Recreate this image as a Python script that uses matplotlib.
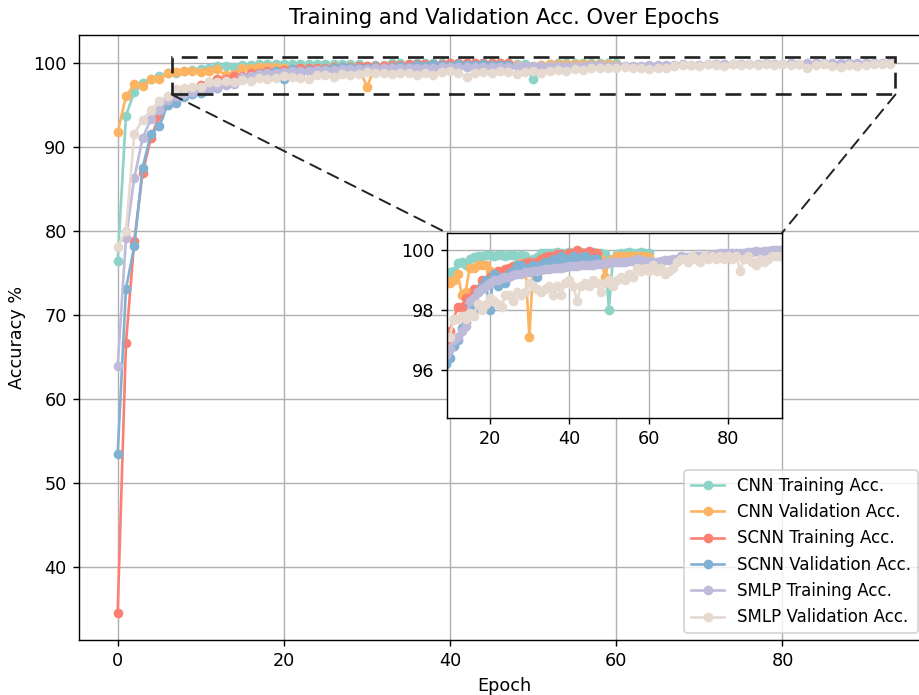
import matplotlib.pyplot as plt
from matplotlib.patches import Rectangle, ConnectionPatch

cnn_train = [76.4, 93.7, 96.5, 97.6, 98.1, 98.4, 98.7, 98.8, 99.0, 99.1,
             99.25, 99.3, 99.55, 99.6, 99.5, 99.7, 99.75, 99.8, 99.8, 99.82,
             99.82, 99.8, 99.82, 99.83, 99.8, 99.82, 99.83, 99.8, 99.82, 99.8,
             99.6, 99.7, 99.75, 99.9, 99.9, 99.88, 99.9, 99.92, 99.9, 99.9,
             99.92, 99.9, 99.9, 99.92, 99.9, 99.9, 99.92, 99.9, 99.88, 99.85,
             98.0, 99.7, 99.85, 99.9, 99.9, 99.92, 99.9, 99.9, 99.92, 99.9, 99.9]
cnn_val = [91.7, 96.0, 97.4, 97.2, 98.0, 98.0, 98.7, 98.9, 99.0, 99.0,
           98.9, 99.0, 99.2, 98.5, 98.6, 99.4, 99.4, 99.5, 99.5, 99.5,
           99.3, 99.2, 99.25, 99.2, 99.2, 99.3, 99.45, 99.5, 99.55, 99.5,
           97.1, 99.5, 99.6, 99.6, 99.65, 99.6, 99.7, 99.65, 99.7, 99.7,
           99.65, 99.7, 99.7, 99.75, 99.7, 99.7, 99.72, 99.7, 99.7, 99.1,
           99.6, 99.7, 99.78, 99.8, 99.78, 99.8, 99.8, 99.78, 99.8, 99.8, 99.75]
scnn_train = [34.6, 66.7, 78.8, 86.9, 91.0, 93.7, 95.2, 96.0, 96.8, 97.0,
              97.3, 97.7, 98.1, 98.1, 98.4, 98.4, 98.7, 98.7, 99.0, 99.0,
              99.1, 99.2, 99.3, 99.3, 99.35, 99.4, 99.45, 99.5, 99.5, 99.55,
              99.6, 99.55, 99.6, 99.7, 99.75, 99.8, 99.8, 99.85, 99.85, 99.8,
              99.9, 99.9, 100.0, 99.9, 99.9, 99.95, 99.9, 99.9]
scnn_val = [53.5, 73.1, 78.2, 87.5, 91.5, 92.4, 95.0, 95.2, 95.9, 96.2,
            96.4, 96.8, 97.0, 97.4, 97.6, 98.2, 98.0, 98.6, 98.8, 99.0,
            98.0, 99.2, 98.8, 99.1, 98.9, 99.2, 99.3, 99.5, 99.5, 99.3,
            99.4, 99.5, 99.1, 99.5, 99.6, 99.5, 99.7, 99.6, 99.8, 99.7,
            99.6, 99.8, 99.7, 99.75, 99.8, 99.7, 99.7, 99.7]
smlp_train = [63.9, 79.1, 86.3, 91.0, 93.3, 94.3, 95.5, 96.0, 96.3, 96.5,
              96.7, 97.0, 97.1, 97.3, 97.45, 98.3, 98.4, 98.6, 98.7, 98.8,
              98.9, 99.0, 99.0, 99.05, 99.1, 99.1, 99.15, 99.2, 99.2, 99.25,
              99.25, 99.3, 99.3, 99.33, 99.35, 99.35, 99.38, 99.4, 99.4, 99.42,
              99.44, 99.44, 99.45, 99.47, 99.48, 99.5, 99.5, 99.52, 99.53, 99.55,
              99.55, 99.57, 99.58, 99.6, 99.6, 99.62, 99.63, 99.67, 99.65, 99.6,
              99.62, 99.6, 99.6, 99.62, 99.65, 99.66, 99.67, 99.7, 99.78, 99.76,
              99.75, 99.78, 99.77, 99.78, 99.78, 99.8, 99.82, 99.85, 99.89, 99.87,
              99.88, 99.89, 99.88, 99.89, 99.9, 99.92, 99.93, 99.94, 99.93, 99.95,
              99.96, 99.97, 100.0, 99.98]
smlp_val = [78.1, 80.0, 91.5, 93.2, 94.3, 95.4, 96.0, 96.8, 97.0, 97.1,
            97.1, 97.7, 97.7, 97.8, 97.7, 97.9, 97.8, 98.2, 98.0, 98.2,
            98.4, 98.3, 98.2, 98.1, 98.5, 98.5, 98.3, 98.6, 98.5, 98.6,
            98.9, 98.8, 98.7, 98.6, 98.7, 98.8, 98.5, 98.8, 98.5, 98.9,
            99.0, 98.8, 98.3, 98.8, 98.9, 98.8, 99.0, 98.9, 98.6, 98.9,
            99.0, 98.8, 99.0, 99.1, 99.0, 99.2, 99.1, 99.4, 99.3, 99.4,
            99.3, 99.5, 99.3, 99.4, 99.2, 99.3, 99.4, 99.6, 99.7, 99.7,
            99.6, 99.8, 99.7, 99.6, 99.8, 99.7, 99.8, 99.7, 99.8, 99.7,
            99.8, 99.7, 99.8, 99.3, 99.7, 99.8, 99.6, 99.5, 99.7, 99.6,
            99.7, 99.8, 99.8, 99.8]

series = [
    ("CNN Training Acc.", cnn_train, "#8dd3c7"),
    ("CNN Validation Acc.", cnn_val, "#fdb462"),
    ("SCNN Training Acc.", scnn_train, "#fb8072"),
    ("SCNN Validation Acc.", scnn_val, "#80b1d3"),
    ("SMLP Training Acc.", smlp_train, "#bebada"),
    ("SMLP Validation Acc.", smlp_val, "#e6d9d0"),
]

DPI = 127
fig = plt.figure(figsize=(919 / DPI, 695 / DPI), dpi=DPI)
ax = fig.add_axes([0.086, 0.0791, 0.925, 0.8705])
axins = fig.add_axes([0.4864, 0.3986, 0.3645, 0.2662])

for label, vals, color in series:
    epochs = list(range(len(vals)))
    ax.plot(epochs, vals, marker="o", ms=4.5, color=color, label=label)
    axins.plot(epochs, vals, marker="o", ms=4.5, color=color)

ax.set_title("Training and Validation Acc. Over Epochs")
ax.set_xlabel("Epoch")
ax.set_ylabel("Accuracy %")
ax.grid(True)

axins.set_xlim(9.3, 93.5)
axins.set_ylim(94.4, 100.55)
axins.set_xticks([20, 40, 60, 80])
axins.set_yticks([96, 98, 100])
axins.grid(True)

# zoom box and connectors (add_artist so the limits stay on the data)
rect = Rectangle((6.5, 96.2), 87.1, 4.5, transform=ax.transData, fill=False,
                 ec="#222222", lw=1.5, ls=(0, (6, 3.5)), zorder=5)
ax.add_artist(rect)
for xa, xb in [(6.5, 0), (93.6, 1)]:
    con = ConnectionPatch(xyA=(xa, 96.2), coordsA=ax.transData,
                          xyB=(xb, 1), coordsB=axins.transAxes,
                          color="#222222", lw=1.1, ls=(0, (6, 4)))
    fig.add_artist(con)

ax.legend(loc="lower right", bbox_to_anchor=(918 / 919, 62 / 695),
          bbox_transform=fig.transFigure, borderaxespad=0, fontsize=9.4)

fig.savefig("out.png", dpi=DPI)
